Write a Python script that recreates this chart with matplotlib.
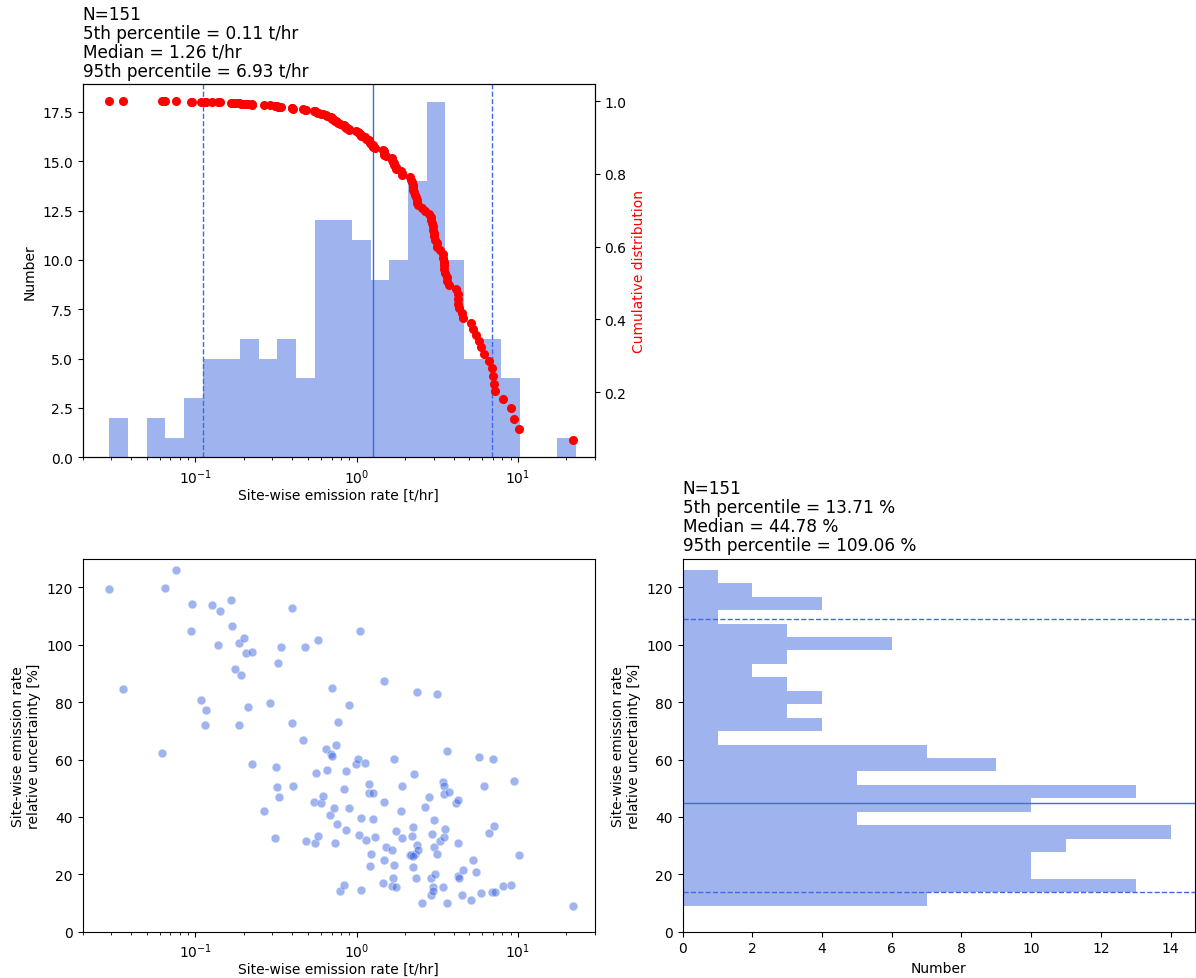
import numpy as np
import matplotlib
matplotlib.use("Agg")
import matplotlib.pyplot as plt

# Site-wise emission rate [t/hr]
emission_rate = [
    0.02930, 0.03545, 0.06185, 0.06456, 0.07552, 0.09581, 0.09445, 0.1079, 0.1165, 0.1143,
    0.1269, 0.1422, 0.1375, 0.1656, 0.1680, 0.1762, 0.1928, 0.1874, 0.1865, 0.2012,
    0.2051, 0.2256, 0.2131, 0.2245, 0.2652, 0.2902, 0.3147, 0.3192, 0.3300, 0.3132,
    0.3254, 0.3396, 0.3993, 0.3974, 0.4050, 0.4671, 0.4784, 0.4829, 0.5414, 0.5570,
    0.5543, 0.5758, 0.5786, 0.6010, 0.6155, 0.6426, 0.6516, 0.6900, 0.7067, 0.7032,
    0.7482, 0.6868, 0.7271, 0.7304, 0.7516, 0.7698, 0.7845, 0.8306, 0.8346, 0.8547,
    0.8588, 0.8921, 0.8965, 0.9953, 1.0240, 1.0438, 1.0388, 1.0587, 1.0638, 1.1315,
    1.1370, 1.1982, 1.1869, 1.2625, 1.2686, 1.2328, 1.2039, 1.2990, 1.4706, 1.4775,
    1.5276, 1.4846, 1.4636, 1.6558, 1.6796, 1.6479, 1.6956, 1.7038, 1.7447, 1.7532,
    1.8740, 1.9009, 1.9099, 2.1305, 2.1818, 2.2239, 2.2029, 2.2451, 2.2560, 2.2995,
    2.3547, 2.3768, 2.3884, 2.3433, 2.5410, 2.6393, 2.7951, 2.9024, 2.9164, 2.8884,
    2.9720, 2.9865, 3.0148, 3.0294, 3.0730, 3.1466, 3.1623, 3.3003, 3.4124, 3.4282,
    3.4775, 3.4615, 3.4943, 3.5112, 3.6297, 3.6475, 3.7350, 4.1479, 4.2474, 4.2270,
    4.2680, 4.3293, 4.5186, 4.5615, 5.1362, 5.2605, 5.4905, 5.7312, 5.8688, 6.1262,
    6.5786, 6.9663, 6.8999, 7.1682, 7.0665, 8.1100, 9.0505, 9.4454, 10.095, 22.03,
    2.2346,
]

# Site-wise emission rate relative uncertainty [%]
uncertainty = [
    119.40, 84.44, 62.37, 119.63, 126.13, 114.05, 104.76, 80.60, 77.24, 72.01,
    113.82, 111.67, 100.00, 115.56, 106.45, 91.41, 89.55, 72.13, 100.58, 102.44,
    97.10, 97.33, 78.40, 58.30, 42.16, 79.56, 57.37, 50.41, 46.92, 32.64,
    93.61, 99.07, 112.78, 72.59, 50.64, 66.78, 99.19, 31.59, 45.06, 55.17,
    31.01, 33.33, 101.51, 44.78, 47.15, 63.65, 56.33, 61.90, 61.21, 84.90,
    64.92, 40.65, 43.21, 30.89, 37.40, 73.17, 14.05, 16.14, 49.71, 56.10,
    35.42, 78.98, 43.09, 58.54, 60.05, 104.88, 33.80, 39.49, 14.63, 58.65,
    32.06, 51.45, 48.43, 48.32, 39.26, 27.06, 22.88, 32.98, 87.46, 45.18,
    29.38, 24.97, 16.96, 28.46, 18.70, 16.03, 23.34, 60.28, 34.96, 15.68,
    42.04, 32.75, 50.75, 26.60, 26.71, 22.42, 33.45, 36.59, 54.82, 27.18,
    83.62, 30.08, 28.34, 18.58, 9.99, 43.55, 47.04, 18.58, 33.91, 12.66,
    15.45, 14.05, 38.79, 29.62, 20.09, 26.95, 82.81, 31.48, 15.56, 52.03,
    50.64, 48.08, 32.87, 35.77, 10.10, 62.83, 48.55, 44.83, 45.76, 30.89,
    19.28, 18.70, 12.78, 21.49, 11.15, 25.09, 20.67, 60.98, 13.47, 50.64,
    34.49, 60.16, 13.71, 13.71, 36.70, 15.91, 16.26, 52.38, 26.60, 9.00,
    26.36,
]

n_bins = 25
rate_bin_upper = 22.88   # upper edge of the last rate bin [t/hr]

rate = np.array(emission_rate)
unc = np.array(uncertainty)
N = len(rate)

r5, r50, r95 = np.percentile(rate, [5, 50, 95])
u5, u50, u95 = np.percentile(unc, [5, 50, 95])

# emission-weighted cumulative distribution (fraction of total from sites >= rate)
order = np.argsort(rate)[::-1]
rate_sorted = rate[order]
cum_frac = np.cumsum(rate_sorted) / rate.sum()

blue = 'royalblue'
fig = plt.figure(figsize=(11.96, 9.79), dpi=100)

ax1 = fig.add_axes([0.0691, 0.5319, 0.4283, 0.3810])
ax3 = fig.add_axes([0.0691, 0.0473, 0.4283, 0.3810])
ax4 = fig.add_axes([0.5708, 0.0473, 0.4283, 0.3810])

title_kw = dict(loc='left', fontsize=12.2, linespacing=1.07)

# Top: histogram of rates
bins = np.geomspace(rate.min(), rate_bin_upper, n_bins + 1)
bins[0] = rate.min()
ax1.hist(rate, bins=bins, color=blue, alpha=0.5)
ax1.set_xscale('log')
ax1.axvline(r50, color=blue, lw=1)
ax1.axvline(r5, color=blue, lw=1, ls='--')
ax1.axvline(r95, color=blue, lw=1, ls='--')
ax1.set_xlim(0.02, 30)
ax1.set_xlabel('Site-wise emission rate [t/hr]', labelpad=1.5)
ax1.set_ylabel('Number')
ax1.set_title(f'N={N}\n5th percentile = {r5:.2f} t/hr\nMedian = {r50:.2f} t/hr\n'
              f'95th percentile = {r95:.2f} t/hr', **title_kw)
ax2 = ax1.twinx()
ax2.plot(rate_sorted, cum_frac, 'o', color='red', ms=5.5)
ax2.set_ylabel('Cumulative distribution', color='red')

# Bottom left: scatter
ax3.scatter(rate, unc, s=40, color=blue, alpha=0.5, edgecolors='white', linewidths=0.6)
ax3.set_xscale('log')
ax3.set_xlim(0.02, 30)
ax3.set_ylim(0, 130)
ax3.set_xlabel('Site-wise emission rate [t/hr]', labelpad=1.5)
ax3.set_ylabel('Site-wise emission rate\nrelative uncertainty [%]')

# Bottom right: horizontal histogram of uncertainty
ax4.hist(unc, bins=n_bins, orientation='horizontal', color=blue, alpha=0.5)
ax4.axhline(u50, color=blue, lw=1)
ax4.axhline(u5, color=blue, lw=1, ls='--')
ax4.axhline(u95, color=blue, lw=1, ls='--')
ax4.set_ylim(0, 130)
ax4.set_xlabel('Number')
ax4.set_ylabel('Site-wise emission rate\nrelative uncertainty [%]')
ax4.set_title(f'N={N}\n5th percentile = {u5:.2f} %\nMedian = {u50:.2f} %\n'
              f'95th percentile = {u95:.2f} %', **title_kw)

fig.savefig('out.png', dpi=100)
